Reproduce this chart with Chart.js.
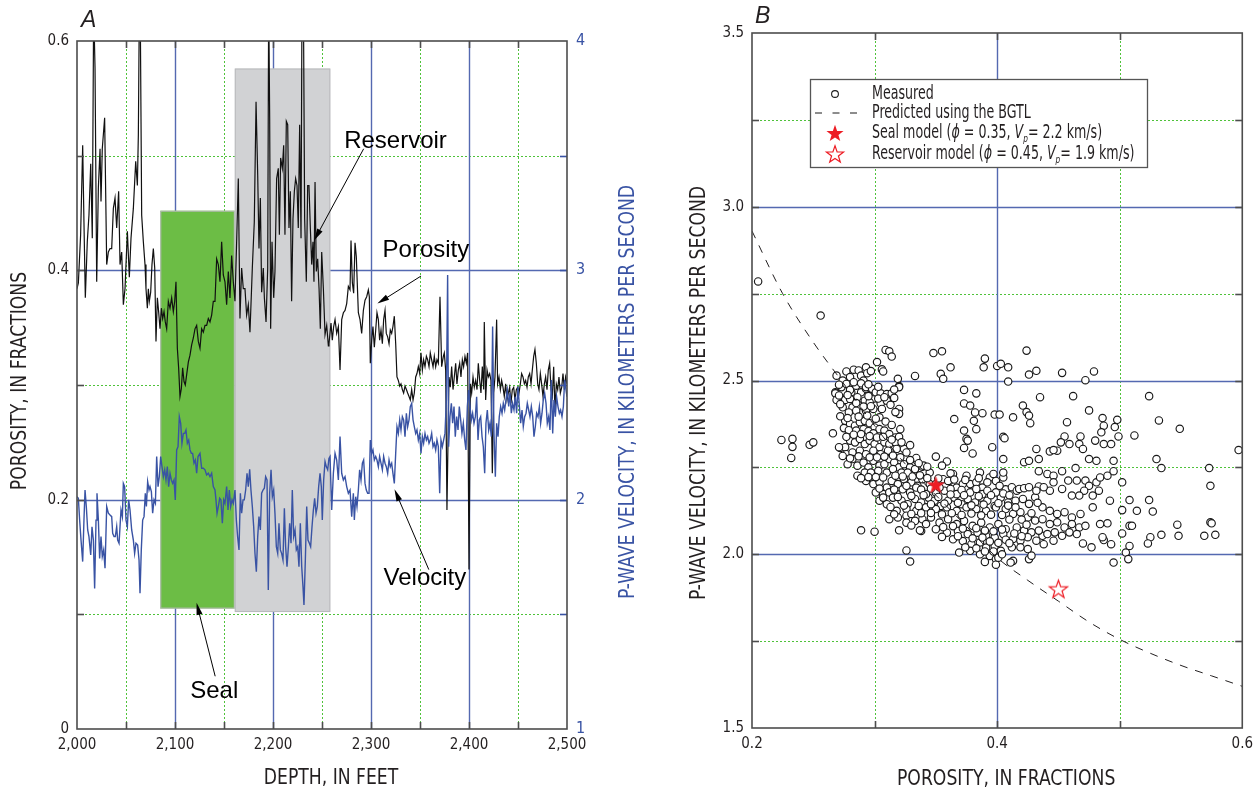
<!DOCTYPE html>
<html>
<head>
<meta charset="utf-8">
<title>Porosity and P-wave velocity</title>
<script src="https://cdn.jsdelivr.net/npm/chart.js@4.4.1/dist/chart.umd.min.js"></script>
<style>
  html, body { margin: 0; padding: 0; background: #fff; }
  #wrap { position: relative; width: 1260px; height: 793px; }
  .panel { position: absolute; top: 0; height: 793px; }
  #panelA { left: 0; width: 640px; }
  #panelB { left: 640px; width: 620px; }
</style>
</head>
<body>
<div id="wrap">
  <div class="panel" id="panelA"><canvas id="chartA"></canvas></div>
  <div class="panel" id="panelB"><canvas id="chartB"></canvas></div>
</div>
<script>
// ---------- panel A: logs against depth ----------
// [depth ft, porosity fraction]
const porosityLog = [
  [2000,0.384],[2001.4,0.389],[2003.7,0.431],[2005.8,0.509],[2007.1,0.442],[2008.5,0.376],[2010.5,0.425],[2012.2,0.448],[2014,0.493],[2015.6,0.428],
  [2017,0.63],[2018.4,0.576],[2020.1,0.39],[2021.8,0.472],[2023.5,0.506],[2024.5,0.46],[2025.8,0.506],[2028.2,0.533],[2030.3,0.405],[2032,0.416],
  [2033.7,0.419],[2035.4,0.419],[2037.1,0.454],[2038.8,0.463],[2040.5,0.437],[2042.5,0.469],[2043.9,0.405],[2045.6,0.416],[2047.3,0.37],[2049,0.384],
  [2051.4,0.434],[2053.4,0.394],[2055.1,0.428],[2057.5,0.454],[2059.9,0.495],[2061.6,0.474],[2062.6,0.518],[2063.6,0.63],[2064.6,0.62],[2066,0.448],
  [2067.7,0.425],[2069.4,0.405],[2070.4,0.384],[2071.8,0.367],[2072.8,0.384],[2073.8,0.373],[2075.2,0.381],[2076.5,0.405],[2077.9,0.419],[2079.3,0.402],
  [2080.6,0.338],[2082,0.376],[2083.3,0.364],[2084.7,0.349],[2086.1,0.367],[2087.4,0.358],[2088.8,0.364],[2090.1,0.355],[2091.5,0.349],[2093.2,0.373],
  [2094.9,0.367],[2096.6,0.376],[2098.3,0.364],[2099.7,0.373],[2101,0.39],[2102.4,0.332],[2103.7,0.315],[2105.1,0.29],[2106.5,0.297],[2107.8,0.315],
  [2109.2,0.303],[2110.5,0.3],[2111.9,0.309],[2113.6,0.32],[2115.3,0.326],[2117,0.335],[2118.7,0.341],[2120.4,0.349],[2122.1,0.352],[2123.8,0.338],
  [2125.5,0.332],[2127.2,0.349],[2128.9,0.346],[2130.6,0.352],[2132.3,0.352],[2134,0.358],[2135.7,0.355],[2137.4,0.361],[2139.1,0.373],[2140.8,0.373],
  [2142.5,0.41],[2144.2,0.405],[2145.9,0.39],[2147.6,0.425],[2149.3,0.396],[2151,0.39],[2152.7,0.37],[2154.4,0.399],[2156.1,0.376],[2157.8,0.413],
  [2159.5,0.39],[2161.2,0.373],[2162.9,0.425],[2164.6,0.48],[2166.3,0.358],[2168,0.402],[2169.7,0.384],[2171.4,0.384],[2173.1,0.361],[2174.8,0.37],
  [2176.5,0.346],[2178.9,0.402],[2180.9,0.442],[2182.7,0.547],[2184.4,0.483],[2185.7,0.419],[2187.1,0.463],[2188.4,0.381],[2190.1,0.402],[2191.2,0.376],
  [2192.9,0.355],[2194.6,0.402],[2195.6,0.64],[2196.6,0.533],[2197.6,0.349],[2199,0.425],[2200.7,0.376],[2202,0.399],[2203.7,0.48],[2205.4,0.489],
  [2206.5,0.431],[2207.8,0.498],[2209.5,0.489],[2210.9,0.509],[2212.2,0.431],[2213.6,0.53],[2215,0.527],[2216.3,0.437],[2217.7,0.469],[2219,0.373],
  [2220.4,0.445],[2221.8,0.469],[2223.1,0.48],[2224.5,0.474],[2225.8,0.437],[2227.2,0.527],[2228.6,0.428],[2229.6,0.64],[2231,0.64],[2232.3,0.445],
  [2234,0.39],[2235.4,0.474],[2236.7,0.474],[2238.1,0.437],[2239.5,0.405],[2240.8,0.425],[2241.8,0.39],[2242.9,0.477],[2244.2,0.399],[2245.6,0.41],
  [2247,0.384],[2248.3,0.349],[2249.7,0.416],[2251.4,0.384],[2253.1,0.344],[2254.8,0.352],[2256.5,0.334],[2257.1,0.336],[2259.2,0.354],[2260.5,0.339],
  [2261.9,0.351],[2263.3,0.357],[2265,0.345],[2266.7,0.351],[2268.4,0.313],[2270.1,0.357],[2271.8,0.363],[2273.5,0.365],[2275.2,0.371],[2276.9,0.386],
  [2278.6,0.383],[2279.6,0.426],[2281,0.389],[2282.3,0.38],[2283.7,0.424],[2285,0.412],[2286.1,0.386],[2287.1,0.363],[2288.8,0.357],[2290.5,0.345],
  [2292.2,0.365],[2293.9,0.374],[2295.6,0.377],[2297.3,0.383],[2298.3,0.377],[2299.3,0.319],[2300.7,0.339],[2302,0.351],[2303.4,0.333],[2304.8,0.348],
  [2306.1,0.363],[2307.5,0.357],[2308.8,0.339],[2310.2,0.348],[2311.6,0.336],[2312.9,0.357],[2314.3,0.365],[2315.6,0.345],[2317,0.342],[2318.4,0.336],
  [2319.7,0.348],[2321.1,0.345],[2322.4,0.351],[2323.8,0.36],[2325.2,0.336],[2326.5,0.307],[2327.9,0.304],[2329.3,0.299],[2330.6,0.301],[2332,0.296],
  [2333.3,0.293],[2334.7,0.299],[2336.1,0.296],[2337.4,0.293],[2338.8,0.29],[2340.1,0.287],[2341.5,0.296],[2342.9,0.287],[2344.2,0.293],[2345.6,0.307],
  [2346.9,0.31],[2348.3,0.316],[2349.7,0.31],[2351,0.328],[2352.4,0.313],[2353.7,0.322],[2355.1,0.316],[2356.5,0.325],[2357.8,0.322],[2359.2,0.316],
  [2360.5,0.328],[2361.9,0.322],[2363.3,0.316],[2364.6,0.325],[2366,0.316],[2367.3,0.322],[2368.7,0.319],[2370.4,0.377],[2372.1,0.316],[2373.8,0.325],
  [2374.8,0.328],[2376.2,0.313],[2377.5,0.191],[2379.6,0.307],[2380.9,0.298],[2382.3,0.316],[2383.7,0.296],[2385,0.307],[2386.4,0.319],[2387.7,0.301],
  [2389.1,0.313],[2390.5,0.319],[2391.8,0.307],[2393.2,0.322],[2394.5,0.316],[2395.9,0.325],[2397.3,0.319],[2398.6,0.328],[2400,0.139],[2401.4,0.301],
  [2402.7,0.293],[2404.1,0.307],[2405.4,0.298],[2406.8,0.304],[2408.2,0.296],[2409.5,0.319],[2410.9,0.304],[2412.2,0.293],[2413.6,0.316],[2415,0.296],
  [2415.6,0.355],[2417,0.287],[2418.4,0.313],[2419.7,0.307],[2421.1,0.31],[2422.4,0.304],[2423.8,0.223],[2425.2,0.293],[2426.5,0.307],[2428.2,0.357],
  [2429.2,0.301],[2430.6,0.307],[2432,0.296],[2433.3,0.304],[2434.7,0.298],[2436,0.29],[2437.4,0.301],[2438.8,0.287],[2440.1,0.293],[2441.5,0.298],
  [2442.8,0.284],[2444.2,0.296],[2445.6,0.298],[2446.9,0.287],[2448.3,0.296],[2449.6,0.298],[2451,0.293],[2452.4,0.301],[2453.7,0.31],[2455.1,0.307],
  [2456.5,0.301],[2457.8,0.304],[2459.2,0.298],[2460.5,0.307],[2461.9,0.31],[2463.3,0.301],[2464.6,0.313],[2466,0.325],[2467.3,0.331],[2468.7,0.319],
  [2470.1,0.301],[2471.4,0.296],[2472.8,0.31],[2474.1,0.301],[2475.5,0.29],[2476.9,0.301],[2478.2,0.307],[2479.6,0.296],[2480.9,0.313],[2482.3,0.319],
  [2483.7,0.296],[2485,0.29],[2486.4,0.316],[2487.7,0.278],[2489.1,0.301],[2490.5,0.296],[2491.8,0.307],[2493.2,0.293],[2494.6,0.298],[2495.9,0.31],
  [2497.3,0.296],[2498.6,0.307],[2500,0.301]
];

// [depth ft, P-wave velocity km/s]
const velocityLog = [
  [2000,2.013],[2001.4,2.006],[2002.7,1.911],[2004.1,1.824],[2005.8,1.73],[2007.1,1.911],[2008.2,2.042],[2009.5,1.97],[2010.9,1.868],[2012.2,1.839],
  [2014,1.759],[2015.3,1.882],[2016.7,1.824],[2018,1.613],[2019.4,1.911],[2020.4,2.028],[2021.8,1.911],[2023.1,1.744],[2024.5,1.839],[2025.8,1.752],
  [2027.2,1.781],[2028.6,1.701],[2030.3,1.97],[2032,1.941],[2033.7,1.933],[2035.4,1.926],[2036.4,1.853],[2037.8,1.839],[2039.1,1.839],[2040.5,1.882],
  [2041.5,1.824],[2042.9,1.81],[2043.9,1.882],[2044.9,1.955],[2046.3,1.926],[2047.3,2.071],[2048.6,2.057],[2050,1.911],[2051.4,1.882],[2052.7,1.999],
  [2054.1,1.955],[2055.8,1.868],[2057.5,1.824],[2058.8,1.766],[2060.2,1.81],[2061.9,1.802],[2063.3,1.737],[2064.3,1.592],[2065.6,1.781],[2067,1.911],
  [2068.4,1.926],[2069.7,2.028],[2070.8,1.97],[2072.1,2.079],[2073.5,2.042],[2074.5,2.057],[2075.9,2.035],[2077.2,1.941],[2078.6,1.999],[2080,1.984],
  [2081.3,2.188],[2082.7,2.057],[2084,2.1],[2085.4,2.188],[2086.7,2.144],[2088.1,2.1],[2089.5,2.13],[2090.8,2.086],[2092.2,2.144],[2093.5,2.057],
  [2094.9,2.115],[2096.3,2.086],[2097.6,2.071],[2099,2.086],[2100.3,1.999],[2101.7,2.217],[2103.1,2.231],[2104.4,2.362],[2105.8,2.333],[2107.1,2.246],
  [2108.5,2.289],[2109.9,2.289],[2111.2,2.304],[2112.6,2.246],[2114,2.26],[2115.3,2.217],[2116.7,2.202],[2118,2.202],[2119.4,2.159],[2120.8,2.173],
  [2122.1,2.115],[2123.5,2.188],[2125.5,2.202],[2127.2,2.137],[2128.9,2.137],[2130.6,2.13],[2132.3,2.108],[2134,2.115],[2135.7,2.1],[2137.4,2.115],
  [2139.1,2.057],[2140.8,2.042],[2141.8,1.999],[2142.9,1.941],[2144.2,1.97],[2145.6,2.006],[2146.9,1.999],[2148.3,1.897],[2149.7,1.999],[2151,1.984],
  [2152.7,2.057],[2154.1,1.955],[2155.4,2.042],[2156.8,1.97],[2158.2,1.999],[2159.5,1.984],[2161.2,2.042],[2162.6,1.911],[2163.9,1.839],[2165.3,1.781],
  [2166.7,2.028],[2168,1.941],[2169.4,1.999],[2170.7,1.999],[2172.1,2.042],[2173.5,2.115],[2174.8,2.057],[2176.2,2.132],[2177.5,2.042],[2178.9,1.97],
  [2180.3,1.882],[2181.6,1.766],[2183,1.686],[2184.4,1.839],[2185.7,1.926],[2187.1,1.868],[2188.4,2.028],[2189.8,2.042],[2191.2,2.05],[2192.5,2.1],
  [2193.9,2.086],[2195.2,1.606],[2196.6,2.028],[2198,2.13],[2199.3,2.013],[2200.7,2.042],[2202,1.941],[2203.4,1.795],[2204.8,1.766],[2206.1,1.897],
  [2207.5,1.781],[2208.8,1.766],[2210.2,1.737],[2211.6,1.962],[2212.9,1.795],[2214.3,1.708],[2215.7,1.795],[2217,1.897],[2218.4,1.81],[2219.7,2.042],
  [2221.1,1.839],[2222.5,1.868],[2223.8,1.781],[2225.2,1.795],[2226.5,1.708],[2227.9,1.897],[2229.3,1.708],[2230.6,1.621],[2231.6,1.541],[2233,1.737],
  [2234.4,1.97],[2235.7,1.824],[2237.1,1.81],[2238.4,1.795],[2239.8,1.882],[2241.2,1.955],[2242.5,2.006],[2243.9,1.941],[2245.2,1.97],[2246.6,2.057],
  [2248,2.115],[2249.3,2.057],[2250.3,1.911],[2251.7,2.086],[2253.1,2.166],[2254.4,2.144],[2255.8,2.13],[2257.1,2.18],[2258.2,2.188],[2259.9,1.955],
  [2261.6,2.115],[2263.3,2.202],[2265,2.173],[2266.7,2.086],[2268.4,2.275],[2270.1,2.115],[2271.8,2.086],[2273.5,2.1],[2275.2,2.057],[2276.9,2.028],
  [2278.6,2.042],[2280.3,1.926],[2282,2.028],[2283,1.911],[2284.4,2.013],[2285.7,1.97],[2287.1,2.042],[2288.4,2.13],[2289.8,2.086],[2291.2,2.159],
  [2292.5,2.173],[2293.9,2.071],[2295.2,2.042],[2296.6,2.028],[2298,2.028],[2299.3,2.26],[2300.7,2.202],[2302,2.217],[2303.4,2.173],[2304.8,2.188],
  [2306.1,2.173],[2307.5,2.144],[2308.8,2.188],[2310.2,2.159],[2311.6,2.13],[2312.9,2.188],[2314.3,2.159],[2315.6,2.144],[2317,2.115],[2318.4,2.173],
  [2319.7,2.144],[2321.1,2.159],[2322.4,2.115],[2323.8,2.071],[2325.2,2.202],[2326.5,2.318],[2327.9,2.289],[2329.3,2.348],[2330.6,2.304],[2332,2.362],
  [2333.3,2.348],[2334.7,2.275],[2336.1,2.377],[2337.4,2.318],[2338.8,2.348],[2340.1,2.406],[2341.5,2.42],[2342.9,2.348],[2344.2,2.318],[2345.6,2.289],
  [2346.9,2.304],[2348.3,2.26],[2349.7,2.289],[2351,2.202],[2352.4,2.275],[2353.7,2.246],[2355.1,2.289],[2356.5,2.26],[2357.8,2.275],[2359.2,2.246],
  [2360.5,2.26],[2361.9,2.289],[2363.3,2.231],[2364.6,2.246],[2366,2.217],[2367.3,2.26],[2368.7,2.231],[2370.1,2.028],[2371.4,2.26],[2372.8,2.231],
  [2374.1,2.26],[2375.5,2.289],[2376.9,2.435],[2378.2,2.98],[2379.2,2.231],[2380.6,2.362],[2382,2.42],[2383.3,2.333],[2384.7,2.406],[2386,2.275],
  [2387.4,2.362],[2388.8,2.304],[2390.1,2.406],[2391.5,2.348],[2392.8,2.289],[2394.2,2.333],[2395.6,2.26],[2396.9,2.217],[2398.3,2.406],[2399.6,2.478],
  [2401,2.406],[2402.4,2.348],[2403.7,2.377],[2405.1,2.333],[2406.5,2.362],[2407.8,2.449],[2409.2,2.26],[2410.5,2.348],[2411.9,2.362],[2413.3,2.275],
  [2414.6,2.231],[2416,2.115],[2417.3,2.333],[2418.7,2.391],[2420.1,2.304],[2421.4,2.333],[2422.8,2.275],[2424.1,2.755],[2425.5,2.289],[2426.9,2.1],
  [2428.2,2.333],[2429.6,2.275],[2430.9,2.362],[2432.3,2.406],[2433.7,2.377],[2435,2.42],[2436.4,2.391],[2437.7,2.435],[2439.1,2.478],[2440.5,2.406],
  [2441.8,2.464],[2443.2,2.377],[2444.5,2.42],[2445.9,2.391],[2447.3,2.449],[2448.6,2.377],[2450,2.493],[2451.4,2.406],[2452.7,2.333],[2454.1,2.391],
  [2455.4,2.319],[2456.8,2.362],[2458.2,2.377],[2459.5,2.42],[2460.9,2.391],[2462.2,2.362],[2463.6,2.406],[2465,2.362],[2466.3,2.275],[2467.7,2.319],
  [2469,2.377],[2470.4,2.362],[2471.8,2.406],[2473.1,2.333],[2474.5,2.377],[2475.8,2.435],[2477.2,2.464],[2478.6,2.42],[2479.9,2.333],[2481.3,2.362],
  [2482.6,2.304],[2484,2.522],[2485.4,2.289],[2486.7,2.435],[2488.1,2.362],[2489.4,2.449],[2490.8,2.406],[2492.2,2.377],[2493.5,2.391],[2494.9,2.362],
  [2496.3,2.406],[2497.6,2.522],[2499,2.478],[2500,2.449]
];

// shaded intervals: [top depth, base depth] and [low, high] porosity extent
const zoneNames = ['Seal', 'Reservoir'];
const zoneDepth = [[2085, 2161], [2161, 2258.5]];
const zonePorosity = [[0.105, 0.452], [0.102, 0.576]];

// callouts: label, text anchor, arrow tail, arrow head (depth, porosity)
const calloutLabels = ['Reservoir', 'Porosity', 'Velocity', 'Seal'];
const calloutText = [[2325, 0.507], [2356, 0.412], [2355, 0.126], [2140, 0.027]];
const calloutTail = [[2292.5, 0.506], [2351, 0.395], [2359, 0.139], [2141, 0.046]];
const calloutHead = [[2242, 0.426], [2306.5, 0.371], [2324, 0.209], [2122, 0.110]];

// ---------- panel B: velocity against porosity ----------
// [porosity, Vp km/s]
const measured = [
  [0.205,2.785],[0.256,2.687],[0.309,2.588],[0.312,2.584],[0.314,2.569],[0.348,2.579],[0.355,2.584],[0.302,2.553],[0.306,2.532],[0.307,2.526],
  [0.333,2.513],[0.319,2.505],[0.320,2.484],[0.314,2.462],[0.362,2.538],[0.354,2.519],[0.356,2.505],[0.373,2.473],[0.383,2.463],[0.390,2.563],
  [0.389,2.538],[0.400,2.542],[0.403,2.548],[0.409,2.538],[0.409,2.497],[0.424,2.586],[0.426,2.517],[0.432,2.528],[0.435,2.452],[0.453,2.522],
  [0.462,2.455],[0.472,2.501],[0.479,2.526],[0.524,2.455],
  [0.269,2.514],[0.274,2.500],[0.277,2.526],[0.280,2.510],[0.283,2.531],[0.287,2.529],[0.289,2.514],[0.293,2.538],[0.294,2.521],[0.297,2.527],
  [0.291,2.500],[0.268,2.466],[0.272,2.452],[0.280,2.481],[0.281,2.466],[0.289,2.466],[0.293,2.476],[0.297,2.476],[0.300,2.466],[0.305,2.461],[0.311,2.442],
  [0.268,2.463],[0.273,2.481],[0.277,2.490],[0.280,2.473],[0.285,2.485],[0.289,2.492],[0.293,2.481],[0.298,2.476],[0.301,2.466],[0.305,2.463],
  [0.310,2.461],[0.314,2.463],[0.320,2.481],
  [0.269,2.444],[0.276,2.444],[0.280,2.447],[0.282,2.423],[0.288,2.428],[0.292,2.442],[0.296,2.437],[0.301,2.428],[0.305,2.434],[0.310,2.442],
  [0.274,2.423],[0.279,2.408],[0.285,2.413],[0.293,2.413],[0.299,2.418],[0.304,2.394],[0.320,2.418],[0.320,2.404],
  [0.276,2.384],[0.280,2.375],[0.284,2.370],[0.288,2.380],[0.292,2.384],[0.296,2.377],[0.300,2.365],[0.304,2.360],[0.308,2.356],[0.312,2.346],
  [0.317,2.336],[0.275,2.363],[0.279,2.357],[0.285,2.356],[0.291,2.360],[0.295,2.354],[0.299,2.348],
  [0.272,2.306],[0.276,2.308],[0.280,2.327],[0.284,2.322],[0.288,2.332],[0.292,2.317],[0.296,2.327],[0.300,2.317],[0.304,2.308],[0.308,2.322],
  [0.312,2.317],[0.317,2.322],[0.320,2.338],[0.324,2.303],[0.326,2.293],[0.277,2.288],[0.282,2.293],[0.288,2.298],[0.293,2.288],[0.299,2.298],
  [0.305,2.288],[0.311,2.298],[0.318,2.303],
  [0.278,2.259],[0.282,2.274],[0.286,2.255],[0.291,2.264],[0.295,2.250],[0.299,2.269],[0.304,2.255],[0.308,2.259],[0.312,2.274],[0.316,2.264],
  [0.320,2.250],[0.324,2.259],[0.329,2.250],[0.334,2.271],[0.339,2.252],[0.345,2.235],[0.286,2.226],[0.292,2.235],[0.297,2.235],[0.303,2.240],
  [0.310,2.235],[0.315,2.245],[0.322,2.235],[0.327,2.235],[0.333,2.245],
  [0.293,2.211],[0.299,2.202],[0.304,2.207],[0.310,2.192],[0.314,2.211],[0.319,2.202],[0.324,2.216],[0.330,2.207],[0.335,2.197],[0.339,2.216],
  [0.345,2.202],[0.350,2.202],[0.356,2.216],[0.361,2.211],[0.367,2.192],[0.372,2.202],[0.378,2.202],[0.383,2.207],[0.388,2.192],[0.394,2.221],
  [0.399,2.211],[0.405,2.221],[0.301,2.178],[0.307,2.173],[0.312,2.178],[0.318,2.173],[0.323,2.187],[0.329,2.178],[0.334,2.192],
  [0.304,2.154],[0.310,2.144],[0.315,2.163],[0.322,2.154],[0.327,2.144],[0.333,2.159],[0.338,2.149],[0.344,2.163],[0.349,2.154],[0.354,2.139],
  [0.360,2.154],[0.365,2.163],[0.371,2.144],[0.376,2.159],[0.382,2.149],[0.387,2.163],[0.392,2.154],[0.398,2.139],[0.403,2.163],[0.409,2.149],
  [0.318,2.125],[0.326,2.130],[0.334,2.125],[0.342,2.135],[0.350,2.130],[0.359,2.135],[0.367,2.125],[0.375,2.135],[0.383,2.130],[0.391,2.125],
  [0.399,2.135],[0.407,2.130],
  [0.312,2.101],[0.319,2.106],[0.326,2.111],[0.333,2.096],[0.339,2.101],[0.346,2.106],[0.353,2.091],[0.360,2.101],[0.367,2.087],[0.373,2.096],
  [0.380,2.082],[0.387,2.091],[0.394,2.077],[0.401,2.087],[0.407,2.072],[0.338,2.067],[0.350,2.072],[0.359,2.062],[0.368,2.067],[0.376,2.058],
  [0.384,2.062],[0.391,2.053],[0.398,2.048],[0.405,2.058],
  [0.364,2.043],[0.372,2.038],[0.379,2.029],[0.386,2.034],[0.391,2.019],[0.398,2.024],[0.403,2.010],[0.369,2.005],[0.378,2.010],[0.386,2.000],
  [0.394,1.995],[0.399,1.986],
  [0.364,2.231],[0.375,2.226],[0.386,2.235],[0.397,2.231],[0.405,2.235],[0.367,2.173],[0.378,2.178],[0.388,2.173],[0.399,2.178],[0.407,2.187],
  [0.350,2.178],[0.342,2.173],[0.357,2.183],
  [0.350,2.281],[0.359,2.267],[0.355,2.255],[0.362,2.233],[0.360,2.211],[0.334,2.277],[0.340,2.255],
  [0.289,2.069],[0.300,2.065],[0.320,2.069],[0.326,2.011],[0.329,1.979],[0.337,2.069],[0.326,2.091],[0.390,1.978],[0.399,1.970],[0.401,1.990],
  [0.224,2.329],[0.233,2.332],[0.233,2.309],[0.232,2.277],[0.247,2.315],[0.250,2.322],[0.266,2.348],[0.271,2.308],
  [0.365,2.389],[0.373,2.434],[0.378,2.428],[0.382,2.408],[0.388,2.406],[0.381,2.384],[0.383,2.360],[0.373,2.356],[0.375,2.332],[0.376,2.327],
  [0.373,2.306],[0.380,2.290],[0.396,2.308],[0.398,2.402],[0.402,2.402],[0.405,2.338],[0.405,2.274],[0.406,2.334],
  [0.413,2.394],[0.421,2.428],[0.424,2.409],[0.426,2.399],[0.427,2.377],[0.475,2.414],[0.486,2.392],[0.498,2.387],[0.457,2.380],[0.487,2.370],
  [0.485,2.351],[0.496,2.366],[0.512,2.342],[0.532,2.385],[0.549,2.361],
  [0.455,2.339],[0.468,2.339],[0.480,2.327],[0.487,2.317],[0.493,2.317],[0.499,2.339],[0.459,2.317],[0.467,2.317],[0.470,2.303],[0.449,2.298],
  [0.443,2.296],[0.452,2.322],[0.432,2.303],[0.446,2.300],[0.475,2.274],[0.481,2.269],[0.495,2.269],[0.464,2.248],[0.434,2.274],[0.422,2.265],
  [0.426,2.269],[0.530,2.274],[0.534,2.248],[0.573,2.248],[0.574,2.197],[0.597,2.300],
  [0.434,2.239],[0.441,2.231],[0.446,2.226],[0.453,2.239],[0.458,2.212],[0.465,2.212],[0.472,2.212],[0.475,2.197],[0.481,2.207],[0.484,2.221],
  [0.490,2.226],[0.495,2.239],[0.502,2.207],[0.471,2.183],[0.478,2.169],[0.483,2.183],[0.453,2.188],[0.461,2.169],[0.467,2.169],[0.443,2.183],
  [0.434,2.195],[0.446,2.207],
  [0.478,2.135],[0.492,2.154],[0.508,2.156],[0.514,2.125],[0.502,2.127],[0.524,2.156],[0.527,2.123],[0.547,2.085],[0.574,2.092],[0.575,2.089],
  [0.534,2.056],[0.548,2.053],[0.569,2.053],[0.578,2.056],[0.525,2.049],[0.523,2.031],[0.502,2.060],[0.508,2.082],[0.510,2.082],[0.487,2.041],
  [0.493,2.029],[0.477,2.020],[0.470,2.031],[0.505,2.005],[0.508,2.024],[0.507,1.986],[0.495,1.976],[0.484,2.087],[0.490,2.089],[0.486,2.049],
  [0.426,1.986],[0.428,1.996],[0.437,2.053],[0.413,1.981],[0.411,1.976],
  [0.412,2.193],[0.416,2.183],[0.415,2.154],[0.421,2.159],[0.426,2.145],[0.431,2.164],[0.437,2.135],[0.443,2.125],[0.449,2.116],[0.455,2.121],
  [0.461,2.106],[0.468,2.116],[0.413,2.116],[0.419,2.121],[0.425,2.106],[0.431,2.097],[0.437,2.101],[0.443,2.087],[0.449,2.092],[0.455,2.077],
  [0.461,2.087],[0.467,2.077],[0.472,2.082],[0.416,2.077],[0.422,2.068],[0.428,2.063],[0.434,2.068],[0.441,2.058],[0.447,2.063],[0.453,2.053],
  [0.459,2.063],[0.465,2.058],[0.413,2.044],[0.419,2.039],[0.425,2.049],[0.432,2.039],[0.438,2.029],[0.446,2.039],[0.412,2.020],[0.419,2.020],
  [0.425,2.015],[0.418,2.188],[0.422,2.190],[0.426,2.193],[0.432,2.183],[0.438,2.193],
  // densest part of the trend
  [0.271,2.488],[0.283,2.495],[0.295,2.489],[0.303,2.482],[0.316,2.474],
  [0.271,2.457],[0.278,2.458],[0.286,2.452],[0.295,2.455],[0.303,2.448],[0.308,2.452],[0.316,2.450],
  [0.272,2.432],[0.285,2.435],[0.291,2.425],[0.297,2.426],[0.306,2.418],[0.313,2.430],[0.317,2.409],
  [0.272,2.397],[0.278,2.392],[0.287,2.396],[0.294,2.399],[0.301,2.390],[0.309,2.382],[0.314,2.372],[0.321,2.360],
  [0.277,2.338],[0.283,2.344],[0.289,2.346],[0.296,2.340],[0.302,2.336],[0.307,2.338],[0.314,2.330],[0.322,2.322],[0.329,2.314],
  [0.274,2.283],[0.280,2.276],[0.287,2.282],[0.296,2.279],[0.302,2.279],[0.308,2.281],[0.315,2.284],[0.321,2.279],[0.329,2.271],[0.336,2.262],[0.343,2.252],
  [0.289,2.219],[0.295,2.222],[0.301,2.222],[0.307,2.221],[0.317,2.226],[0.323,2.224],[0.331,2.224],[0.337,2.227],[0.343,2.219],[0.352,2.218],
  [0.365,2.215],[0.374,2.214],[0.385,2.219],[0.392,2.207],
  [0.304,2.189],[0.316,2.186],[0.326,2.197],[0.338,2.186],[0.346,2.189],[0.353,2.192],[0.362,2.188],[0.371,2.185],[0.383,2.188],[0.392,2.183],[0.402,2.197],
  [0.307,2.163],[0.319,2.165],[0.330,2.168],[0.340,2.170],[0.352,2.165],[0.362,2.172],[0.373,2.170],[0.385,2.167],[0.395,2.170],[0.405,2.175],
  [0.313,2.136],[0.324,2.140],[0.336,2.139],[0.346,2.144],[0.357,2.146],[0.368,2.148],[0.379,2.141],[0.389,2.143],[0.401,2.147],[0.409,2.140],
  [0.316,2.115],[0.330,2.116],[0.338,2.118],[0.346,2.119],[0.355,2.115],[0.363,2.118],[0.371,2.113],[0.379,2.117],[0.387,2.112],[0.395,2.114],[0.404,2.113],
  [0.330,2.083],[0.342,2.087],[0.356,2.078],[0.364,2.081],[0.372,2.074],[0.383,2.075],[0.390,2.068],[0.397,2.066],[0.404,2.071],
  [0.355,2.050],[0.368,2.052],[0.380,2.046],[0.388,2.048],[0.394,2.037],[0.401,2.033],[0.407,2.042],
  [0.374,2.020],[0.383,2.017],[0.390,2.008],[0.397,2.008],[0.404,2.000],
  [0.410,2.170],[0.415,2.135],[0.420,2.100],[0.424,2.085],[0.428,2.118],[0.433,2.148],[0.410,2.100],[0.414,2.060],[0.420,2.052],[0.410,2.032]
];

// BGTL prediction
const bgtlPorosity = [0.2, 0.225, 0.25, 0.275, 0.3, 0.325, 0.35, 0.375, 0.4, 0.425, 0.45, 0.475, 0.5, 0.525, 0.55, 0.575, 0.6];
const bgtlVelocity = [2.93, 2.75, 2.61, 2.49, 2.37, 2.26, 2.17, 2.08, 1.99, 1.925, 1.865, 1.805, 1.755, 1.715, 1.68, 1.65, 1.62];

// model points [porosity, Vp]
const sealModel = [0.35, 2.2];
const reservoirModel = [0.45, 1.9];

// ---------- styling ----------
const NARROW = "'Liberation Sans Narrow', 'DejaVu Sans Condensed', 'Arial Narrow', sans-serif";
const SANS = "'Liberation Sans', Arial, sans-serif";
const INK = '#231f20';
const FRAME = '#4d4d4d';
const BLUE = '#3953a4';
const GRID_BLUE = '#5469b1';
const GRID_GREEN = '#4fc23a';
const RED = '#ed1c24';

Chart.defaults.font.family = NARROW;
Chart.defaults.color = INK;

const toXY = rows => rows.map(([x, y]) => ({ x, y }));

function px(scale, v) { return Math.round(scale.getPixelForValue(v)) + 0.5; }
function seg(ctx, x1, y1, x2, y2) { ctx.beginPath(); ctx.moveTo(x1, y1); ctx.lineTo(x2, y2); ctx.stroke(); }

function drawGrid(chart, xs, ys, g) {
  const { ctx, chartArea: a } = chart;
  ctx.save();
  ctx.lineWidth = 1;
  ctx.strokeStyle = GRID_GREEN;
  ctx.setLineDash([2, 2]);
  g.xDotted.forEach(v => seg(ctx, px(xs, v), a.top, px(xs, v), a.bottom));
  g.yDotted.forEach(v => seg(ctx, a.left, px(ys, v), a.right, px(ys, v)));
  ctx.setLineDash([]);
  ctx.strokeStyle = GRID_BLUE;
  ctx.lineWidth = 1.4;
  g.xSolid.forEach(v => seg(ctx, px(xs, v), a.top, px(xs, v), a.bottom));
  g.ySolid.forEach(v => seg(ctx, a.left, px(ys, v), a.right, px(ys, v)));
  ctx.restore();
}

function drawFrame(chart, xs, ys, g, rightColor) {
  const { ctx, chartArea: a } = chart;
  const len = 7;
  ctx.save();
  ctx.lineWidth = 1.6;
  ctx.strokeStyle = FRAME;
  g.xTicks.forEach(v => {
    const x = px(xs, v);
    seg(ctx, x, a.top, x, a.top + len);
    seg(ctx, x, a.bottom, x, a.bottom - len);
  });
  g.yTicks.forEach(v => seg(ctx, a.left, px(ys, v), a.left + len, px(ys, v)));
  ctx.strokeStyle = rightColor;
  g.yTicks.forEach(v => seg(ctx, a.right, px(ys, v), a.right - len, px(ys, v)));
  ctx.strokeStyle = FRAME;
  ctx.strokeRect(a.left, a.top, a.right - a.left, a.bottom - a.top);
  ctx.restore();
}

// condensed caption text, squeezed horizontally
function axisTitle(ctx, text, x, y, color, vertical) {
  ctx.save();
  ctx.translate(x, y);
  if (vertical) ctx.rotate(-Math.PI / 2);
  ctx.scale(0.87, 1);
  ctx.font = `22px ${NARROW}`;
  ctx.fillStyle = color;
  ctx.textAlign = 'center';
  ctx.textBaseline = 'alphabetic';
  ctx.fillText(text, 0, 0);
  ctx.restore();
}

function panelLetter(ctx, letter, x, y) {
  ctx.save();
  ctx.font = `italic 23px ${SANS}`;
  ctx.fillStyle = INK;
  ctx.textBaseline = 'alphabetic';
  ctx.fillText(letter, x, y);
  ctx.restore();
}

function arrow(ctx, x1, y1, x2, y2) {
  const ang = Math.atan2(y2 - y1, x2 - x1);
  const c = Math.cos(ang), s = Math.sin(ang);
  seg(ctx, x1, y1, x2 - 8 * c, y2 - 8 * s);
  ctx.beginPath();
  ctx.moveTo(x2, y2);
  ctx.lineTo(x2 - 12 * c + 3 * s, y2 - 12 * s - 3 * c);
  ctx.lineTo(x2 - 12 * c - 3 * s, y2 - 12 * s + 3 * c);
  ctx.closePath();
  ctx.fill();
}

function starImage(filled, r) {
  const size = Math.ceil(r * 2 + 4);
  const c = document.createElement('canvas');
  c.width = size; c.height = size;
  const g = c.getContext('2d');
  g.beginPath();
  for (let i = 0; i < 10; i++) {
    const rad = i % 2 ? r * 0.4 : r;
    const ang = -Math.PI / 2 + i * Math.PI / 5;
    g.lineTo(size / 2 + rad * Math.cos(ang), size / 2 + 0.8 + rad * Math.sin(ang));
  }
  g.closePath();
  if (filled) { g.fillStyle = RED; g.fill(); }
  else { g.strokeStyle = RED; g.lineWidth = 1.2; g.stroke(); }
  return c;
}

// ---------- panel A ----------
const gridA = {
  xSolid: [2100, 2200, 2300, 2400], xDotted: [2050, 2150, 2250, 2350, 2450],
  ySolid: [0.2, 0.4], yDotted: [0.1, 0.3, 0.5],
  xTicks: [2050, 2100, 2150, 2200, 2250, 2300, 2350, 2400, 2450],
  yTicks: [0.1, 0.2, 0.3, 0.4, 0.5]
};
const zoneFill = ['#6cbd45', '#d1d2d4'];

const wellLogDecor = {
  id: 'wellLogDecor',
  beforeDatasetsDraw(chart) {
    const { ctx, scales: { x, y } } = chart;
    drawGrid(chart, x, y, gridA);
    ctx.save();
    zoneNames.forEach((name, i) => {
      const l = x.getPixelForValue(zoneDepth[i][0]);
      const r = x.getPixelForValue(zoneDepth[i][1]);
      const t = y.getPixelForValue(zonePorosity[i][1]);
      const b = y.getPixelForValue(zonePorosity[i][0]);
      ctx.fillStyle = zoneFill[i];
      ctx.fillRect(l, t, r - l, b - t);
      ctx.strokeStyle = '#b9babc';
      ctx.lineWidth = 1;
      ctx.strokeRect(l + 0.5, t + 0.5, r - l - 1, b - t - 1);
    });
    ctx.restore();
  },
  afterDatasetsDraw(chart) {
    const { ctx, chartArea: a, scales: { x, y } } = chart;
    drawFrame(chart, x, y, gridA, BLUE);
    ctx.save();
    ctx.fillStyle = '#000';
    ctx.strokeStyle = '#000';
    ctx.lineWidth = 1;
    ctx.font = `24px ${SANS}`;
    ctx.textAlign = 'center';
    ctx.textBaseline = 'alphabetic';
    calloutLabels.forEach((label, i) => {
      ctx.fillText(label, x.getPixelForValue(calloutText[i][0]), y.getPixelForValue(calloutText[i][1]));
      arrow(ctx,
        x.getPixelForValue(calloutTail[i][0]), y.getPixelForValue(calloutTail[i][1]),
        x.getPixelForValue(calloutHead[i][0]), y.getPixelForValue(calloutHead[i][1]));
    });
    ctx.restore();
    const mid = (a.left + a.right) / 2;
    axisTitle(ctx, 'DEPTH, IN FEET', mid + 9, a.bottom + 55, INK, false);
    axisTitle(ctx, 'POROSITY, IN FRACTIONS', 26, 381, INK, true);
    axisTitle(ctx, 'P-WAVE VELOCITY, IN KILOMETERS PER SECOND', a.right + 67, 392, BLUE, true);
    panelLetter(ctx, 'A', 81, 27);
  }
};

new Chart(document.getElementById('chartA'), {
  type: 'line',
  data: {
    datasets: [
      { label: 'Velocity', data: toXY(velocityLog), yAxisID: 'y2', borderColor: BLUE, borderWidth: 1.4, pointRadius: 0, tension: 0 },
      { label: 'Porosity', data: toXY(porosityLog), yAxisID: 'y', borderColor: '#111', borderWidth: 1.2, pointRadius: 0, tension: 0 }
    ]
  },
  options: {
    responsive: true,
    maintainAspectRatio: false,
    animation: false,
    devicePixelRatio: 1,
    events: [],
    layout: { padding: { top: 41, left: 0, right: 0, bottom: 0 } },
    plugins: { legend: { display: false }, tooltip: { enabled: false } },
    scales: {
      x: {
        type: 'linear', min: 2000, max: 2500,
        afterFit: s => { s.height = 64; },
        grid: { display: false, drawTicks: false }, border: { display: false },
        ticks: { stepSize: 100, padding: 7, color: INK, font: { size: 15 }, maxRotation: 0 }
      },
      y: {
        type: 'linear', position: 'left', min: 0, max: 0.6,
        afterFit: s => { s.width = 77; },
        grid: { display: false, drawTicks: false }, border: { display: false },
        ticks: { stepSize: 0.2, padding: 8, color: INK, font: { size: 15 }, callback: v => (v === 0 ? '0' : v.toFixed(1)) }
      },
      y2: {
        type: 'linear', position: 'right', min: 1, max: 4,
        afterFit: s => { s.width = 73; },
        grid: { display: false, drawTicks: false }, border: { display: false },
        ticks: { stepSize: 1, padding: 9, color: BLUE, font: { size: 16 } }
      }
    }
  },
  plugins: [wellLogDecor]
});

// ---------- panel B ----------
const gridB = {
  xSolid: [0.4], xDotted: [0.3, 0.5],
  ySolid: [2.0, 2.5, 3.0], yDotted: [1.75, 2.25, 2.75, 3.25],
  xTicks: [0.3, 0.4, 0.5],
  yTicks: [1.75, 2.0, 2.25, 2.5, 2.75, 3.0, 3.25]
};

const sealStar = starImage(true, 9.5);
const reservoirStar = starImage(false, 9.5);
const legendStarSeal = starImage(true, 9);
const legendStarReservoir = starImage(false, 9);

// legend line made of plain, italic and subscript runs
function drawRuns(ctx, runs, x, y, size) {
  ctx.save();
  ctx.translate(x, y);
  ctx.scale(0.74, 1);
  let cx = 0;
  runs.forEach(r => {
    const fs = r.sub ? Math.round(size * 0.6) : size;
    ctx.font = `${r.it ? 'italic ' : ''}${fs}px ${NARROW}`;
    ctx.fillText(r.t, cx, r.sub ? size * 0.3 : 0);
    cx += ctx.measureText(r.t).width;
  });
  ctx.restore();
}

const crossplotDecor = {
  id: 'crossplotDecor',
  beforeDatasetsDraw(chart) {
    const { scales: { x, y } } = chart;
    drawGrid(chart, x, y, gridB);
  },
  afterDatasetsDraw(chart) {
    const { ctx, chartArea: a, scales: { x, y } } = chart;
    drawFrame(chart, x, y, gridB, FRAME);

    // legend box
    const left = a.left + 58, top = a.top + 46, w = 337, h = 88;
    ctx.save();
    ctx.fillStyle = '#fff';
    ctx.fillRect(left, top, w, h);
    ctx.strokeStyle = '#555';
    ctx.lineWidth = 1.3;
    ctx.strokeRect(left + 0.5, top + 0.5, w, h);
    const symX = left + 25, textX = left + 62, size = 19;
    const rows = [top + 15, top + 34, top + 54, top + 75];
    ctx.strokeStyle = '#1a1a1a';
    ctx.lineWidth = 1.1;
    ctx.beginPath(); ctx.arc(symX, rows[0], 3.4, 0, Math.PI * 2); ctx.stroke();
    ctx.lineWidth = 1;
    ctx.setLineDash([7, 10.5]);
    seg(ctx, left + 5, rows[1], left + 47, rows[1]);
    ctx.setLineDash([]);
    ctx.drawImage(legendStarSeal, symX - legendStarSeal.width / 2, rows[2] - legendStarSeal.height / 2);
    ctx.drawImage(legendStarReservoir, symX - legendStarReservoir.width / 2, rows[3] - legendStarReservoir.height / 2);
    ctx.fillStyle = INK;
    ctx.textBaseline = 'middle';
    drawRuns(ctx, [{ t: 'Measured' }], textX, rows[0], size);
    drawRuns(ctx, [{ t: 'Predicted using the BGTL' }], textX, rows[1], size);
    drawRuns(ctx, [
      { t: 'Seal model (' }, { t: 'ϕ', it: true }, { t: ' = ' + sealModel[0].toFixed(2) + ', ' },
      { t: 'V', it: true }, { t: 'p', it: true, sub: true }, { t: '= ' + sealModel[1].toFixed(1) + ' km/s)' }
    ], textX, rows[2], size);
    drawRuns(ctx, [
      { t: 'Reservoir model (' }, { t: 'ϕ', it: true }, { t: ' = ' + reservoirModel[0].toFixed(2) + ', ' },
      { t: 'V', it: true }, { t: 'p', it: true, sub: true }, { t: '= ' + reservoirModel[1].toFixed(1) + ' km/s)' }
    ], textX, rows[3], size);
    ctx.restore();

    const mid = (a.left + a.right) / 2;
    axisTitle(ctx, 'POROSITY, IN FRACTIONS', mid + 9, a.bottom + 57, INK, false);
    axisTitle(ctx, 'P-WAVE VELOCITY, IN KILOMETERS PER SECOND', a.left - 47, 393, INK, true);
    panelLetter(ctx, 'B', 115, 23);
  }
};

new Chart(document.getElementById('chartB'), {
  type: 'scatter',
  data: {
    datasets: [
      { label: 'Seal model', data: [{ x: sealModel[0], y: sealModel[1] }], pointStyle: sealStar, pointRadius: 9 },
      { label: 'Reservoir model', data: [{ x: reservoirModel[0], y: reservoirModel[1] }], pointStyle: reservoirStar, pointRadius: 9 },
      {
        type: 'line', label: 'Predicted using the BGTL',
        data: bgtlPorosity.map((p, i) => ({ x: p, y: bgtlVelocity[i] })),
        borderColor: INK, borderWidth: 1, borderDash: [8, 8], pointRadius: 0,
        cubicInterpolationMode: 'monotone', fill: false
      },
      {
        label: 'Measured', data: toXY(measured),
        pointRadius: 3.7, pointBorderWidth: 1.15, borderColor: '#1a1a1a', backgroundColor: '#fff',
        pointBorderColor: '#1a1a1a', pointBackgroundColor: '#fff'
      }
    ]
  },
  options: {
    responsive: true,
    maintainAspectRatio: false,
    animation: false,
    devicePixelRatio: 1,
    events: [],
    layout: { padding: { top: 33, left: 0, right: 17, bottom: 0 } },
    plugins: { legend: { display: false }, tooltip: { enabled: false } },
    scales: {
      x: {
        type: 'linear', min: 0.2, max: 0.6,
        afterFit: s => { s.height = 65; },
        grid: { display: false, drawTicks: false }, border: { display: false },
        ticks: { stepSize: 0.2, padding: 7, color: INK, font: { size: 15 }, maxRotation: 0, callback: v => v.toFixed(1) }
      },
      y: {
        type: 'linear', min: 1.5, max: 3.5,
        afterFit: s => { s.width = 112; },
        grid: { display: false, drawTicks: false }, border: { display: false },
        ticks: { stepSize: 0.5, padding: 8, color: INK, font: { size: 15 }, callback: v => v.toFixed(1) }
      }
    }
  },
  plugins: [crossplotDecor]
});
</script>
</body>
</html>
